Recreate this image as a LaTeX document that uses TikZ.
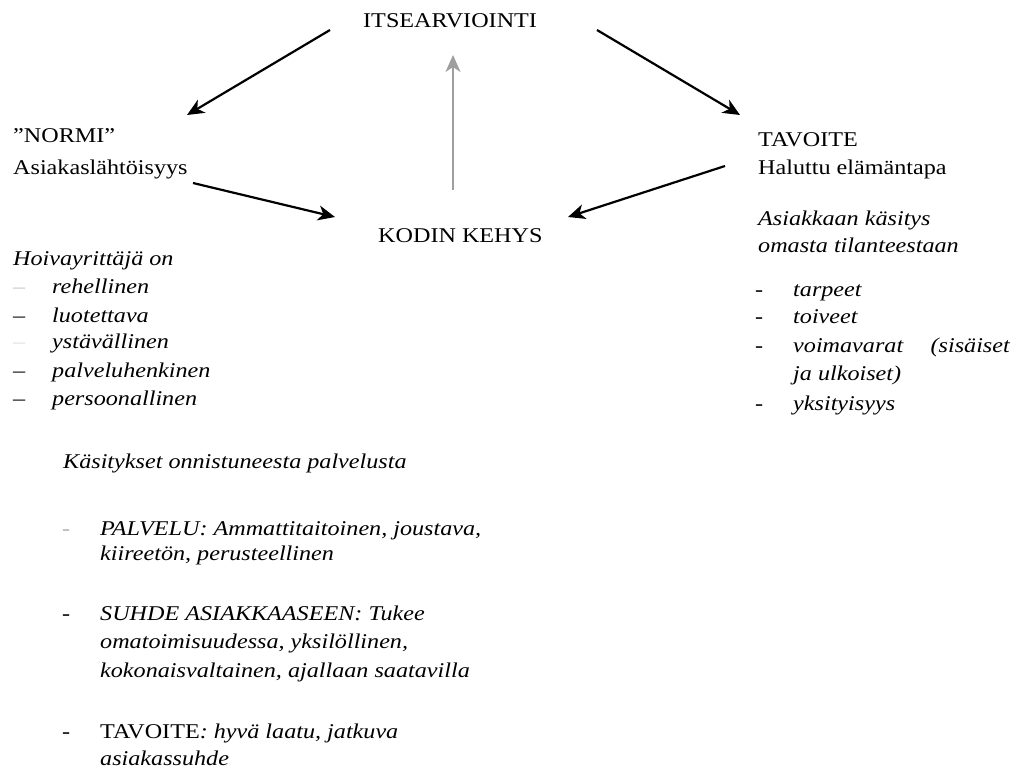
\documentclass[tikz,border=0pt]{standalone}
\usepackage{fontspec}
\setmainfont{Liberation Serif}[FakeStretch=1.15]
\usetikzlibrary{arrows.meta}

\tikzset{
    txt/.style={anchor=base west, inner sep=0pt, font=\fontsize{21}{28}\selectfont},
    itxt/.style={txt, font=\fontsize{21}{28}\selectfont\itshape},
    dashmark/.style={anchor=base west, inner sep=0pt, font=\fontsize{21}{28}\selectfont},
    arr/.style={line width=2.2pt, -{Stealth[length=17pt,width=15pt,inset=5pt]}}
}

\begin{document}
\begin{tikzpicture}[x=1pt,y=-1pt]
\useasboundingbox (0,0) rectangle (1011,770);

% Main headings
\node[txt] (itse) at (363,28) {ITSEARVIOINTI};
\node[txt] (kodin) at (378,242) {KODIN KEHYS};
\node[txt] (normi) at (13,143) {”NORMI”};
\node[txt] (asiak) at (13,175) {Asiakaslähtöisyys};
\node[txt] (tavoite) at (758,147) {TAVOITE};
\node[txt] (halu) at (758,175) {Haluttu elämäntapa};

% Arrow ends
\coordinate (itse-l) at (330,30);
\coordinate (normi-t) at (187,115);
\coordinate (itse-r) at (597,30);
\coordinate (tav-t) at (740,115);
\coordinate (itse-b) at (453,55);
\coordinate (kodin-t) at (453,190);
\coordinate (asiak-r) at (193,183);
\coordinate (kodin-l) at (335,217);
\coordinate (halu-l) at (725,166);
\coordinate (kodin-r) at (568,217);

% Arrows
\draw[arr] (itse-l) -- (normi-t);
\draw[arr] (itse-r) -- (tav-t);
\draw[arr, gray!75] (kodin-t) -- (itse-b);
\draw[arr] (asiak-r) -- (kodin-l);
\draw[arr] (halu-l) -- (kodin-r);

% Left list
\node[itxt] (hoiva) at (13,265) {Hoivayrittäjä on};
\foreach \y/\t/\c [count=\i] in {293/rehellinen/gray!45, 322/luotettava/black,
    348/ystävällinen/gray!25, 377/palveluhenkinen/black, 405/persoonallinen/black}{
    \node[dashmark, text=\c] (hd\i) at (13,\y) {–};
    \node[itxt] (ht\i) at (52,\y) {\t};
}

% Right list
\node[itxt] (kasitys) at (758,225) {Asiakkaan käsitys};
\node[itxt] (omasta) at (758,252) {omasta tilanteestaan};
\foreach \y/\t [count=\i] in {296/tarpeet, 323/toiveet, 352/voimavarat, 410/yksityisyys}{
    \node[dashmark] (rd\i) at (755,\y) {-};
    \node[itxt] (rt\i) at (793,\y) {\t};
}
\node[itxt, anchor=base east] (sisa) at (1010,352) {(sisäiset};
\node[itxt] (ulko) at (793,380) {ja ulkoiset)};

% Bottom list
\node[itxt] (onni) at (63,468) {Käsitykset onnistuneesta palvelusta};
\node[dashmark, text=gray!60] (bd1) at (62,535) {-};
\node[dashmark] (bd2) at (62,620) {-};
\node[dashmark] (bd3) at (62,738) {-};
\foreach \y/\t [count=\i] in {535/{PALVELU: Ammattitaitoinen, joustava,},
    560/{kiireetön, perusteellinen},
    620/{SUHDE ASIAKKAASEEN: Tukee},
    648/{omatoimisuudessa, yksilöllinen,},
    677/{kokonaisvaltainen, ajallaan saatavilla},
    738/{{\upshape TAVOITE}: hyvä laatu, jatkuva},
    765/{asiakassuhde}}{
    \node[itxt] (bt\i) at (100,\y) {\t};
}

\end{tikzpicture}
\end{document}
